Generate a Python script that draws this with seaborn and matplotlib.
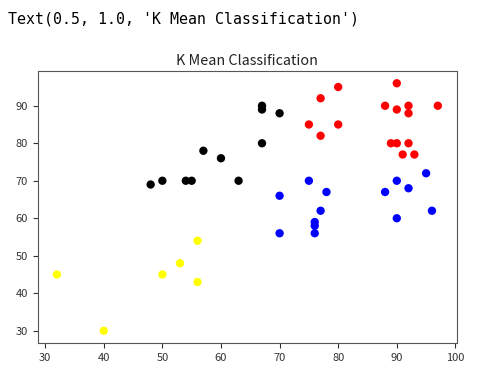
import matplotlib
matplotlib.use("Agg")
import matplotlib.pyplot as plt
import seaborn as sns
import pandas as pd

# cluster data (x, y)
black_x = [48, 50, 54, 55, 57, 60, 63, 67, 67, 70, 67]
black_y = [69, 70, 70, 70, 78, 76, 70, 90, 89, 88, 80]
red_x = [80, 77, 75, 80, 77, 90, 88, 90, 92, 92, 97, 89, 90, 92, 91, 93]
red_y = [95, 92, 85, 85, 82, 96, 90, 89, 90, 88, 90, 80, 80, 80, 77, 77]
blue_x = [75, 70, 78, 77, 76, 76, 76, 70, 88, 90, 92, 95, 96, 90]
blue_y = [70, 66, 67, 62, 59, 58, 56, 56, 67, 70, 68, 72, 62, 60]
yellow_x = [32, 40, 50, 53, 56, 56]
yellow_y = [45, 30, 45, 48, 54, 43]

clusters = ["black", "red", "blue", "yellow"]
title = "K Mean Classification"

frames = []
for name, xs, ys in [("black", black_x, black_y), ("red", red_x, red_y),
                     ("blue", blue_x, blue_y), ("yellow", yellow_x, yellow_y)]:
    frames.append(pd.DataFrame({"x": xs, "y": ys, "cluster": name}))
df = pd.concat(frames, ignore_index=True)

plt.rcParams['font.family'] = ['Noto Sans CJK KR', 'DejaVu Sans']

fig = plt.figure(figsize=(4.85, 3.75), dpi=100)
ax = fig.add_axes([0.078, 0.085, 0.864, 0.726])
sns.scatterplot(data=df, x="x", y="y", hue="cluster",
                palette={c: c for c in clusters}, s=36, linewidth=0,
                legend=False, ax=ax)
ax.set_xlabel("")
ax.set_ylabel("")
ax.set_title(title, fontsize=10.3, pad=4, color="#222222")
ax.tick_params(labelsize=8, colors="#333333", length=3.5)
for sp in ax.spines.values():
    sp.set_color("#555555")

fig.text(0.016, 0.948, "Text(0.5, 1.0, 'K Mean Classification')",
         family="DejaVu Sans Mono", fontsize=10.7, va="center", ha="left")

fig.savefig("out.png", dpi=100)
